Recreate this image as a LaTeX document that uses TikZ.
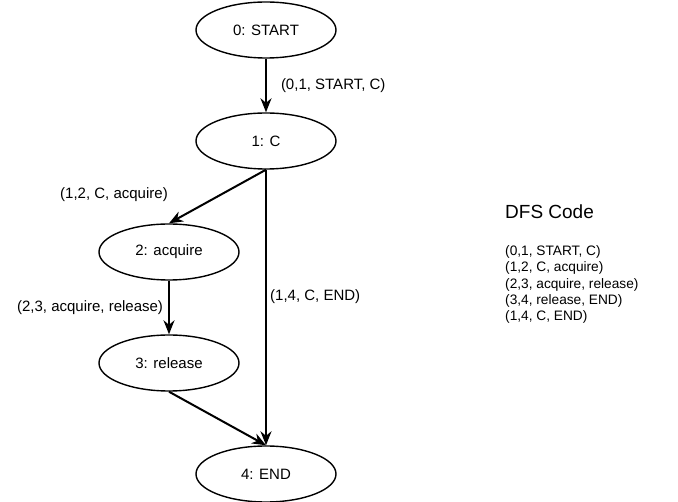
\documentclass[tikz,border=0pt]{standalone}
\usepackage{fontspec}
\setmainfont{Liberation Sans}
\usetikzlibrary{shapes.geometric,arrows.meta}

\tikzset{
    state/.style={ellipse, draw, line width=1.4pt, minimum width=140pt, minimum height=56pt,
        inner sep=0pt, font=\fontsize{15}{18}\selectfont},
    trans/.style={-{Stealth[length=14pt,width=11pt]}, line width=2pt},
    edgelabel/.style={font=\fontsize{15}{18}\selectfont, inner sep=2pt},
    codeline/.style={font=\fontsize{13.7}{16}\selectfont, anchor=west, inner sep=0pt}
}

\begin{document}
\begin{tikzpicture}[x=1pt, y=-1pt]
    \useasboundingbox (0,0) rectangle (678,502);

    % States
    \node[state] (n0) at (266,30) {0: START};
    \node[state] (n1) at (266,141) {1: C};
    \node[state] (n2) at (169,252) {2: acquire};
    \node[state] (n3) at (169,363) {3: release};
    \node[state] (n4) at (266,474) {4: END};

    % Transitions
    \draw[trans] (n0) -- (n1) node[edgelabel, midway, right=12pt] {(0,1, START, C)};
    \draw[trans] (n1.south) -- (n2.north);
    \draw[trans] (n1.south) -- (n4.north);
    \draw[trans] (n2) -- (n3) node[edgelabel, midway, left=3pt] {(2,3, acquire, release)};
    \draw[trans] (n3.south) -- (n4.north);

    % Labels away from their lines
    \node[edgelabel] (l12) at (114,195) {(1,2, C, acquire)};
    \node[edgelabel, anchor=west] (l14) at (268,297) {(1,4, C, END)};

    % DFS code list
    \node[font=\fontsize{19}{22}\selectfont, anchor=west, inner sep=0pt] (title) at (505,212) {DFS Code};
    \foreach \txt [count=\i] in {{(0,1, START, C)}, {(1,2, C, acquire)}, {(2,3, acquire, release)},
        {(3,4, release, END)}, {(1,4, C, END)}}
        \node[codeline] (code\i) at (505,236+16.2*\i) {\txt};
\end{tikzpicture}
\end{document}
